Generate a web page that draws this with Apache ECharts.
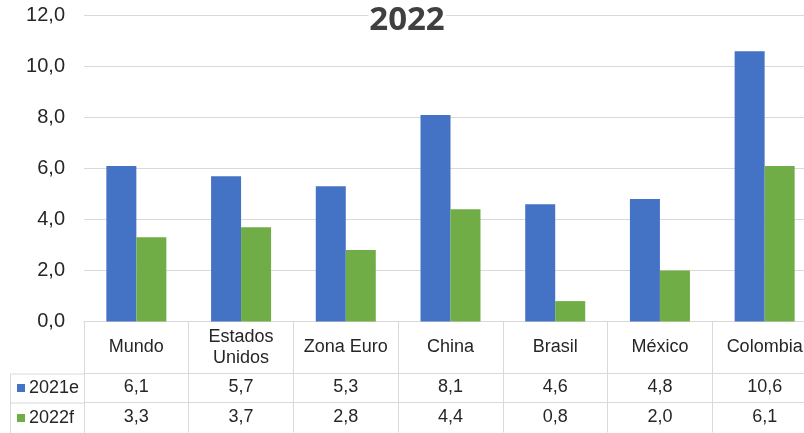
<!DOCTYPE html>
<html>
<head>
<meta charset="utf-8">
<script src="https://cdn.jsdelivr.net/npm/echarts@6/dist/echarts.min.js"></script>
<style>
html,body{margin:0;padding:0;background:#fff;}
#c{width:804px;height:433px;}
</style>
</head>
<body>
<div id="c"></div>
<script>
const titleText = '2022';
const categories = ['Mundo', 'Estados\nUnidos', 'Zona Euro', 'China', 'Brasil', 'México', 'Colombia'];
const seriesNames = ['2021e', '2022f'];
const values2021e = [6.1, 5.7, 5.3, 8.1, 4.6, 4.8, 10.6];
const values2022f = [3.3, 3.7, 2.8, 4.4, 0.8, 2.0, 6.1];
const yTicks = [0, 2, 4, 6, 8, 10, 12];

const fmt = v => v.toFixed(1).replace('.', ',');
const gridColor = '#d9d9d9';
const textColor = '#262626';
const font = 'Liberation Sans, Arial, sans-serif';

const chart = echarts.init(document.getElementById('c'));
chart.setOption({
  animation: false,
  backgroundColor: '#fff',
  title: {
    text: titleText,
    left: 406, top: 21,
    textAlign: 'center', textVerticalAlign: 'middle',
    backgroundColor: '#fff', padding: [0, 1],
    textStyle: {fontFamily: 'Open Sans, sans-serif', fontWeight: 'bold', fontSize: 33, color: '#404040'}
  },
  legend: {
    orient: 'vertical', left: 17, top: 378, padding: 0,
    itemWidth: 8, itemHeight: 8, itemGap: 10, icon: 'rect',
    selectedMode: false,
    textStyle: {fontFamily: font, fontSize: 18, color: textColor, lineHeight: 20, padding: [0, 0, 0, -1]},
    data: seriesNames
  },
  grid: {left: 84, top: 15.5, bottom: 111.5, width: 733, containLabel: false, outerBoundsMode: 'none'},
  xAxis: [
    {
      type: 'category', data: categories, position: 'bottom',
      axisLine: {show: true, lineStyle: {color: gridColor}},
      axisTick: {show: true, interval: 0, length: 111, lineStyle: {color: gridColor}},
      axisLabel: {interval: 0, margin: 26, verticalAlign: 'middle', lineHeight: 21,
        fontFamily: font, fontSize: 18, color: textColor}
    },
    {
      type: 'category', data: categories, position: 'bottom', offset: 52,
      axisLine: {show: true, lineStyle: {color: gridColor}},
      axisTick: {show: false},
      axisLabel: {interval: 0, margin: 14, verticalAlign: 'middle',
        fontFamily: font, fontSize: 18, color: textColor,
        formatter: (v, i) => fmt(values2021e[i])}
    },
    {
      type: 'category', data: categories, position: 'bottom', offset: 81,
      axisLine: {show: true, lineStyle: {color: gridColor}},
      axisTick: {show: false},
      axisLabel: {interval: 0, margin: 15, verticalAlign: 'middle',
        fontFamily: font, fontSize: 18, color: textColor,
        formatter: (v, i) => fmt(values2022f[i])}
    }
  ],
  yAxis: {
    type: 'value', min: yTicks[0], max: yTicks[yTicks.length - 1], interval: 2,
    axisLine: {show: false}, axisTick: {show: false},
    splitLine: {lineStyle: {color: gridColor, width: 1}},
    axisLabel: {margin: 19, fontFamily: font, fontSize: 20, color: textColor, formatter: v => fmt(v)}
  },
  graphic: [
    {type: 'rect', shape: {x: 10.5, y: 374, width: 74, height: 70}, style: {fill: 'none', stroke: gridColor, lineWidth: 1}, silent: true},
    {type: 'line', shape: {x1: 10.5, y1: 403, x2: 84, y2: 403}, style: {stroke: gridColor, lineWidth: 1}, silent: true}
  ],
  series: [
    {name: seriesNames[0], type: 'bar', data: values2021e, barWidth: 30, barGap: '0%',
      itemStyle: {color: '#4472C4'}, xAxisIndex: 0},
    {name: seriesNames[1], type: 'bar', data: values2022f, barWidth: 30, barGap: '0%',
      itemStyle: {color: '#70AD47'}, xAxisIndex: 0}
  ]
});
</script>
</body>
</html>
